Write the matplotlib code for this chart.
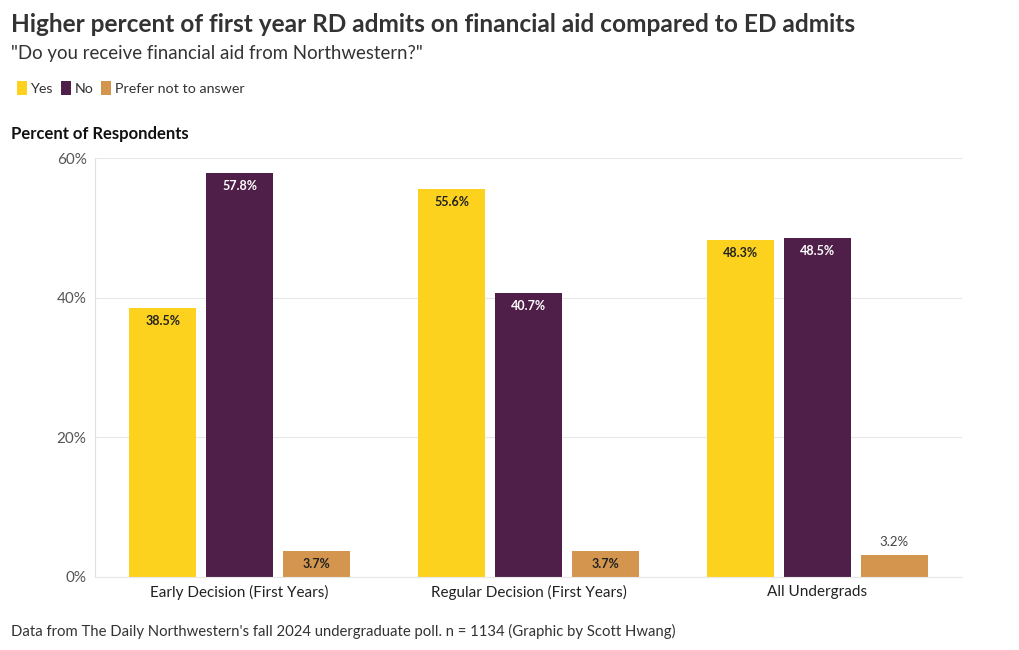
import matplotlib
matplotlib.use("Agg")
import matplotlib.pyplot as plt
from matplotlib.patches import Patch
import numpy as np

plt.rcParams["font.family"] = ["Lato", "DejaVu Sans"]

groups = ["Early Decision (First Years)", "Regular Decision (First Years)", "All Undergrads"]
series = ["Yes", "No", "Prefer not to answer"]
yes_vals = [38.5, 55.6, 48.3]
no_vals = [57.8, 40.7, 48.5]
prefer_vals = [3.7, 3.7, 3.2]
colors = ["#FDD21F", "#4F1F4A", "#D4964E"]
label_colors = ["#222222", "#FFFFFF", "#222222"]
yticks = [0, 20, 40, 60]

fig = plt.figure(figsize=(10.2, 6.5), dpi=100)
ax = fig.add_axes([95 / 1020, 1 - 577 / 650, 867 / 1020, 419 / 650])

x = np.arange(len(groups))
bw = 0.232
step = 0.266
for i, vals in enumerate([yes_vals, no_vals, prefer_vals]):
    xs = x + (i - 1) * step
    ax.bar(xs, vals, bw, color=colors[i], zorder=2)
    for xi, v in zip(xs, vals):
        if v >= 3.5:
            ax.annotate(f"{v}%", (xi, v), xytext=(0, -5), textcoords="offset points",
                        ha="center", va="top", fontsize=9, fontweight="bold",
                        color=label_colors[i])
        else:
            ax.annotate(f"{v}%", (xi, v), xytext=(0, 5), textcoords="offset points",
                        ha="center", va="bottom", fontsize=9.5, color="#444444")

ax.set_xlim(-0.5, 2.5)
ax.set_ylim(0, 60)
ax.set_yticks(yticks)
ax.set_yticklabels([f"{t}%" for t in yticks], fontsize=11, color="#555555")
ax.set_xticks(x)
ax.set_xticklabels(groups, fontsize=11, color="#222222")
ax.tick_params(axis="both", length=0, pad=6)
ax.grid(True, axis="y", color="#E8E8E8", lw=0.8, zorder=0)
for s in ["top", "right"]:
    ax.spines[s].set_visible(False)
ax.spines["left"].set_color("#E0E0E0")
ax.spines["bottom"].set_color("#E8E8E8")

fig.text(11 / 1020, 1 - 24 / 650, "Higher percent of first year RD admits on financial aid compared to ED admits",
         fontsize=17.6, fontweight="bold", color="#333333", va="center")
fig.text(11 / 1020, 1 - 53 / 650, "\"Do you receive financial aid from Northwestern?\"",
         fontsize=13.4, color="#333333", va="center")
handles = [Patch(facecolor=c, edgecolor="none") for c in colors]
fig.legend(handles, series, loc="center left", bbox_to_anchor=(4 / 1020, 1 - 88 / 650),
           ncol=3, frameon=False, fontsize=10.3, handlelength=0.7, handleheight=1.1,
           handletextpad=0.3, columnspacing=0.5, labelcolor="#333333")
fig.text(11 / 1020, 1 - 134 / 650, "Percent of Respondents", fontsize=12, fontweight="bold",
         color="#111111", va="center")
fig.text(11 / 1020, 1 - 631 / 650,
         "Data from The Daily Northwestern's fall 2024 undergraduate poll. n = 1134 (Graphic by Scott Hwang)",
         fontsize=10.75, color="#333333", va="center")

fig.savefig("out.png", dpi=100)
